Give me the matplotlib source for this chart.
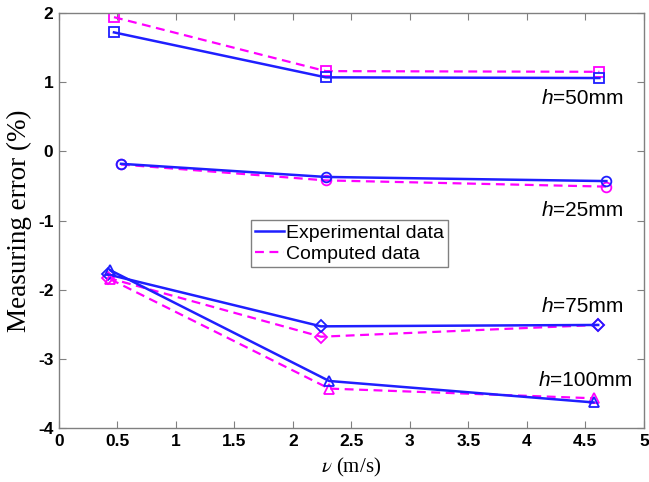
import matplotlib

matplotlib.use("Agg")
import matplotlib.pyplot as plt
from matplotlib.lines import Line2D

# velocity (m/s) and measuring error (%) for each depth h
V_50 = [0.47, 2.28, 4.62]
EXP_50 = [1.72, 1.07, 1.06]
COMP_50 = [1.94, 1.16, 1.15]

V_25 = [0.53, 2.28, 4.68]
EXP_25 = [-0.18, -0.37, -0.43]
COMP_25 = [-0.19, -0.42, -0.51]

V_75 = [0.42, 2.24, 4.61]
EXP_75 = [-1.78, -2.53, -2.51]
COMP_75 = [-1.83, -2.68, -2.51]

V_100 = [0.44, 2.31, 4.57]
EXP_100 = [-1.72, -3.32, -3.63]
COMP_100 = [-1.85, -3.43, -3.57]

# (x of the "=" sign, y, depth label)
LABELS = [
    (4.225, 0.77, "50"),
    (4.225, -0.85, "25"),
    (4.225, -2.25, "75"),
    (4.20, -3.31, "100"),
]

BLUE = "#1f1fff"
MAGENTA = "#ff00ff"
SANS = "Liberation Sans"
SERIF = "Liberation Serif"

plt.rcParams["axes.unicode_minus"] = False
plt.rcParams["mathtext.fontset"] = "stix"

fig = plt.figure(figsize=(6.49, 4.82), dpi=100)
ax = fig.add_axes([0.0909, 0.112, 0.9011, 0.861])

series = [
    (V_50, EXP_50, COMP_50, "s"),
    (V_25, EXP_25, COMP_25, "o"),
    (V_75, EXP_75, COMP_75, "D"),
    (V_100, EXP_100, COMP_100, "^"),
]
for v, exp_vals, comp_vals, marker in series:
    ms = 6 if marker == "D" else 7
    ax.plot(v, comp_vals, color=MAGENTA, linestyle="--", linewidth=1.6,
            marker=marker, markersize=ms, markerfacecolor="none",
            markeredgewidth=1.3, dashes=(4, 2.5))
    ax.plot(v, exp_vals, color=BLUE, linestyle="-", linewidth=1.8,
            marker=marker, markersize=ms, markerfacecolor="none",
            markeredgewidth=1.3)

for x, y, h in LABELS:
    ax.text(x, y, "h", fontsize=15, family=SANS, style="italic",
            ha="right", va="center")
    ax.text(x, y, "=" + h + "mm", fontsize=15, family=SANS,
            ha="left", va="center")

ax.set_xlim(0, 5)
ax.set_ylim(-4, 2)
ax.set_xticks([0, 0.5, 1, 1.5, 2, 2.5, 3, 3.5, 4, 4.5, 5])
ax.set_xticklabels(["0", "0.5", "1", "1.5", "2", "2.5", "3", "3.5", "4", "4.5", "5"])
ax.set_yticks([-4, -3, -2, -1, 0, 1, 2])
for lbl in ax.get_xticklabels() + ax.get_yticklabels():
    lbl.set_family(SANS)
    lbl.set_fontweight("bold")
    lbl.set_fontsize(12.5)

ax.tick_params(direction="in", top=True, right=True, length=5, width=0.8,
               color="#808080", pad=4)
for spine in ax.spines.values():
    spine.set_color("#808080")
    spine.set_linewidth(1.0)

ax.set_xlabel("$\\nu$ (m/s)", family=SERIF, fontsize=15, labelpad=5)
ax.set_ylabel("Measuring error (%)", family=SERIF, fontsize=19.5, labelpad=4)

handles = [
    Line2D([], [], color=BLUE, linestyle="-", linewidth=1.8),
    Line2D([], [], color=MAGENTA, linestyle="--", linewidth=1.6, dashes=(4, 2.5)),
]
leg = ax.legend(handles, ["Experimental data", "Computed data"],
                loc="upper left", bbox_to_anchor=(0.328, 0.501),
                prop={"family": SANS, "size": 14}, fancybox=False,
                framealpha=1, edgecolor="#808080", handlelength=1.5,
                handletextpad=0.1, borderpad=0.2, labelspacing=0.2,
                borderaxespad=0)
leg.get_frame().set_linewidth(1.0)

fig.savefig("out.png", dpi=100)
